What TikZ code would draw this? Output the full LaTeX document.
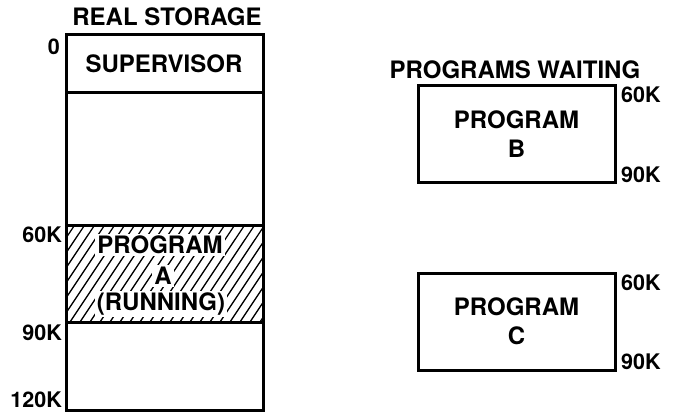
\documentclass[tikz,border=0pt]{standalone}
\usepackage{fontspec}
\setmainfont{TeX Gyre Heros}
\begin{document}
\begin{tikzpicture}[x=1pt,y=-1pt,
  lbl/.style={font=\bfseries\fontsize{24}{29}\selectfont, inner sep=0pt, align=center},
  addr/.style={font=\bfseries\fontsize{21.5}{23}\selectfont, inner sep=0pt},
  frame/.style={line width=3pt},
  hatch/.style={line width=1.3pt},
  blank/.style={lbl, fill=white, inner sep=2pt},
  progbox/.style={lbl, draw, frame, minimum width=197pt, minimum height=97pt}]
\useasboundingbox (0,0) rectangle (675,417);
% title
\node[lbl] (realt) at (167,17) {REAL STORAGE};
% hatched region of program A
\begin{scope}
  \clip (66,225) rectangle (263,322);
  \foreach \x in {0,10,...,270} {
    \draw[hatch] (\x,322) -- ++(64.7,-97);
  }
\end{scope}
\node[blank] (pa1) at (160,245) {PROGRAM};
\node[blank] (pa2) at (163,276) {A};
\node[blank] (pa3) at (161,304) {(RUNNING)};
% storage column
\draw[frame] (66,35) rectangle (263,410);
\draw[frame] (66,93) -- (263,93);
\draw[frame] (66,225) -- (263,225);
\draw[frame] (66,322) -- (263,322);
\node[lbl] (sup) at (164,64) {SUPERVISOR};
% addresses
\node[addr, anchor=east] (a0) at (60,47) {0};
\node[addr, anchor=east] (a60) at (62,235) {60K};
\node[addr, anchor=east] (a90) at (62,333) {90K};
\node[addr, anchor=east] (a120) at (62,400) {120K};
% programs waiting
\node[lbl] (wait) at (515,70) {PROGRAMS WAITING};
\node[progbox] (pb) at (516.5,134) {PROGRAM\\B};
\node[progbox] (pc) at (516.5,321.5) {PROGRAM\\C};
\node[addr, anchor=west] (b60) at (621,95) {60K};
\node[addr, anchor=west] (b90) at (621,175) {90K};
\node[addr, anchor=west] (c60) at (621,283) {60K};
\node[addr, anchor=west] (c90) at (621,362) {90K};
\end{tikzpicture}
\end{document}
